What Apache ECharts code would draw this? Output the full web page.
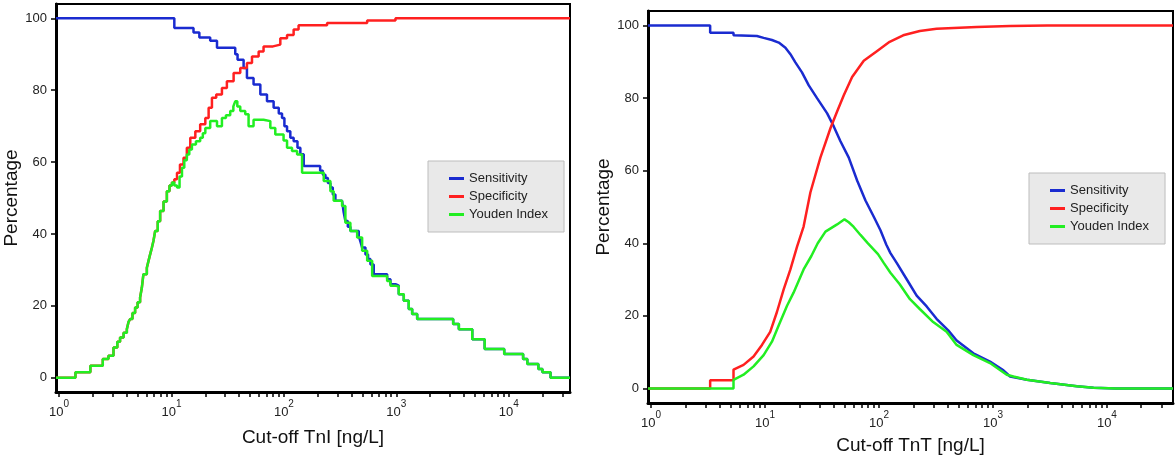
<!DOCTYPE html>
<html>
<head>
<meta charset="utf-8">
<script src="https://cdn.jsdelivr.net/npm/echarts@6/dist/echarts.min.js"></script>
<style>
  html, body { margin: 0; padding: 0; background: #fff; }
  #chart { width: 1176px; height: 460px; }
</style>
</head>
<body>
<div id="chart"></div>
<script>
// series names and axis ticks
const seriesNames = ['Sensitivity', 'Specificity', 'Youden Index'];
const seriesColors = ['#1a2bd0', '#ff2020', '#22ee22'];
const xTicks = [1, 2, 3, 4, 5, 6, 7, 8, 9,
  10, 20, 30, 40, 50, 60, 70, 80, 90,
  100, 200, 300, 400, 500, 600, 700, 800, 900,
  1000, 2000, 3000, 4000, 5000, 6000, 7000, 8000, 9000,
  10000, 20000, 30000];
const xLabels = [1, 10, 100, 1000, 10000];
const yTicks = [0, 20, 40, 60, 80, 100];

// TnI (left panel), step curves: [cut-off, %]
const tniSens = [[0.94, 100], [10.6, 97.3], [15.7, 96.1], [17.7, 94.7], [22.1, 93.8], [25.4, 91.8], [36.9, 90.0],
  [38.7, 88.5], [43.8, 86.2], [46.9, 83.4], [53.7, 81.6], [61.7, 78.8], [70.7, 76.9], [81, 75.1], [90, 73.5],
  [96.2, 72.3], [101, 70.0], [106.6, 68.6], [114, 66.8], [122, 65.8], [132, 64.0], [140, 62.2], [150, 58.9],
  [210, 57.6], [222, 56.5], [234, 55.6], [246, 54.2], [259, 52.9], [272, 51.0], [287, 49.2], [329, 48.7],
  [340, 46.0], [352, 43.6], [370, 42.0], [390, 40.8], [463, 39.4], [480, 37.8], [496, 36.2], [531, 34.3],
  [560, 33.0], [588, 31.5], [629, 28.8], [828, 27.4], [886, 26.0], [982, 25.6], [1050, 23.2], [1164, 21.4],
  [1289, 19.1], [1382, 17.7], [1531, 16.3], [3200, 14.9], [3594, 13.5], [4730, 10.7], [6100, 8.0], [9100, 6.6],
  [13400, 5.2], [14600, 3.8], [18300, 2.4], [19900, 1.5], [23500, 0], [35000, 0]];
const tniSpec = [[0.94, 0], [1.4, 1.5], [1.9, 3.3], [2.45, 5.2], [2.75, 6.1], [3.05, 8.4], [3.3, 10.0], [3.49, 11.2],
  [3.75, 12.5], [4.01, 13.5], [4.15, 15.5], [4.29, 16.3], [4.5, 18.0], [4.75, 19.5], [5.0, 21.0], [5.26, 22.3],
  [5.45, 25.0], [5.63, 28.8], [6.04, 30.6], [6.25, 32.5], [6.46, 34.3], [6.7, 36.2], [6.92, 38.1], [7.16, 40.8],
  [7.55, 43.5], [7.93, 46.4], [8.5, 49.0], [9.1, 51.9], [9.6, 53.5], [10.1, 54.3], [10.6, 55.2], [11.2, 57.0],
  [11.9, 59.3], [12.8, 61.2], [13.7, 64.0], [14.7, 66.8], [16.3, 68.6], [18.0, 70.5], [20.0, 72.3], [21.4, 75.1],
  [22.9, 77.9], [25.0, 78.8], [28.1, 80.6], [31.1, 82.5], [35.7, 84.8], [40.9, 86.2], [46.9, 87.6], [52, 89.4],
  [59.6, 90.8], [65.9, 92.2], [80, 92.7], [92.9, 94.5], [106.6, 95.4], [122, 96.9], [135, 98.1], [242, 98.7],
  [550, 99.4], [982, 100], [35000, 100]];
const tniYouden = [[0.94, 0], [1.4, 1.5], [1.9, 3.3], [2.45, 5.2], [2.75, 6.1], [3.05, 8.4], [3.3, 10.0], [3.49, 11.2],
  [3.75, 12.5], [4.01, 13.5], [4.15, 15.5], [4.29, 16.3], [4.5, 18.0], [4.75, 19.5], [5.0, 21.0], [5.26, 22.3],
  [5.45, 25.0], [5.63, 28.8], [6.04, 30.6], [6.25, 32.5], [6.46, 34.3], [6.7, 36.2], [6.92, 38.1], [7.16, 40.8],
  [7.55, 43.5], [7.93, 46.4], [8.5, 49.0], [9.1, 51.9], [9.6, 53.5], [10.1, 54.3], [10.6, 53.5], [11.2, 52.9],
  [11.8, 56.0], [12.4, 58.4], [13.0, 60.5], [13.7, 62.1], [14.4, 63.5], [15.2, 64.9], [16.5, 65.8], [18.0, 66.8],
  [19.0, 68.0], [20.0, 69.5], [22.1, 71.4], [25.4, 70.0], [28.1, 72.3], [30.5, 73.0], [33.3, 74.2], [35.5, 75.5],
  [36.9, 76.9], [38.5, 75.5], [40.9, 74.2], [45.3, 73.3], [48.5, 70.0], [53.7, 71.8], [65.9, 71.4], [75.7, 69.5],
  [83.8, 67.7], [99.3, 66.0], [106.6, 64.0], [118, 63.1], [131, 62.1], [145, 57.0], [226, 54.7], [259, 51.9],
  [277, 49.2], [329, 47.8], [352, 43.1], [390, 40.8], [448, 39.0], [496, 35.3], [550, 32.5], [609, 28.3],
  [828, 26.9], [886, 25.6], [982, 25.4], [1050, 23.2], [1164, 21.4], [1289, 19.1], [1382, 17.7], [1531, 16.3],
  [3200, 14.9], [3594, 13.5], [4730, 10.7], [6100, 8.0], [9100, 6.6], [13400, 5.2], [14600, 3.8], [18300, 2.4],
  [19900, 1.5], [23500, 0], [35000, 0]];

// TnT (right panel), dense curves: [cut-off, %]
const tntSens = [[0.94, 100], [3.3, 100], [3.3, 98.0], [5.29, 98.0], [5.29, 97.3], [8.49, 97.1], [9.72, 96.6],
  [11.5, 96.0], [13.2, 95.3], [15.1, 93.9], [16.7, 92.1], [18.4, 89.9], [21.1, 87.1], [24.2, 83.5], [28.6, 80.0],
  [35.1, 75.8], [40.1, 72.2], [45.9, 68.1], [54.3, 63.6], [64.3, 57.3], [76.1, 51.8], [90, 47.3], [103, 43.6],
  [116, 39.6], [126, 37.3], [143, 34.6], [175, 30.1], [214, 25.6], [262, 22.6], [320, 19.2], [405, 16.0],
  [480, 13.2], [673, 9.7], [942, 7.4], [1236, 5.0], [1413, 3.3], [1983, 2.4], [3178, 1.5], [5450, 0.6],
  [7640, 0.2], [12000, 0], [38000, 0]];
const tntSpec = [[0.94, 0], [3.3, 0], [3.3, 2.3], [5.29, 2.3], [5.29, 5.2], [6.48, 6.5], [7.93, 8.8], [9.4, 12.0],
  [11.1, 15.6], [12.7, 21.0], [14.6, 27.4], [16.7, 32.8], [19.1, 39.1], [21.8, 44.6], [25.0, 54.0], [30.6, 63.6],
  [37.5, 71.7], [42.9, 76.3], [49.1, 80.8], [58.1, 85.8], [73.5, 90.3], [96.4, 93.0], [124, 95.5], [163, 97.3],
  [228, 98.5], [320, 99.1], [720, 99.6], [1413, 99.9], [3000, 100], [38000, 100]];
const tntYouden = [[0.94, 0], [5.29, 0], [5.29, 2.4], [6.48, 3.8], [7.93, 6.1], [9.72, 9.2], [11.5, 12.9],
  [13.2, 17.4], [15.6, 22.8], [17.8, 26.4], [21.8, 32.8], [25.5, 36.5], [29, 40.0], [33.9, 43.2], [42.9, 45.2],
  [49.8, 46.6], [54.3, 45.8], [60, 44.5], [68.8, 42.3], [80, 40.0], [98, 37.0], [110, 34.6], [126, 31.9],
  [152, 28.7], [187, 24.6], [228, 21.9], [299, 18.3], [392, 15.6], [480, 12.0], [673, 9.2], [942, 7.0],
  [1321, 3.8], [1514, 3.3], [1983, 2.4], [3178, 1.5], [5450, 0.6], [7640, 0.2], [12000, 0], [38000, 0]];

const chart = echarts.init(document.getElementById('chart'));
const textColor = '#222';
const fontFamily = 'Liberation Sans, Arial, sans-serif';

function makeX(idx, max, name, gap) {
  return {
    type: 'log', logBase: 10, gridIndex: idx, min: 0.94, max: max,
    name: name, nameLocation: 'middle', nameGap: gap,
    nameTextStyle: { fontSize: 19, color: '#111', fontFamily: fontFamily },
    axisLine: { onZero: false, lineStyle: { color: '#000', width: 3 } },
    axisTick: { customValues: xTicks, length: 5, lineStyle: { color: '#000', width: 1.5 } },
    minorTick: { show: false },
    splitLine: { show: false },
    axisLabel: {
      customValues: xLabels, margin: 7,
      formatter: function (v) { return '{b|10}{s|' + Math.round(Math.log10(v)) + '}'; },
      rich: {
        b: { fontSize: 13, color: textColor, fontFamily: fontFamily, lineHeight: 20, verticalAlign: 'bottom' },
        s: { fontSize: 10, color: textColor, fontFamily: fontFamily, lineHeight: 12, verticalAlign: 'top' }
      }
    }
  };
}

function makeY(idx, gap) {
  return {
    type: 'value', gridIndex: idx, min: -4, max: 104,
    name: 'Percentage', nameLocation: 'middle', nameGap: gap,
    nameTextStyle: { fontSize: 19, color: '#111', fontFamily: fontFamily },
    axisLine: { onZero: false, lineStyle: { color: '#000', width: 3 } },
    axisTick: { customValues: yTicks, length: 5, lineStyle: { color: '#000', width: 1.5 } },
    splitLine: { show: false },
    axisLabel: { customValues: yTicks, margin: 9, fontSize: 13, color: textColor, fontFamily: fontFamily }
  };
}

function makeSeries(idx, data, colorIdx, step) {
  return {
    name: seriesNames[colorIdx], type: 'line', xAxisIndex: idx, yAxisIndex: idx,
    data: data, step: step, symbol: 'none', clip: true,
    lineStyle: { color: seriesColors[colorIdx], width: 2.5 },
    itemStyle: { color: seriesColors[colorIdx] }
  };
}

function makeLegend(left, top) {
  return {
    data: seriesNames, orient: 'vertical', left: left, top: top,
    backgroundColor: '#e9e9e9', borderColor: '#bdbdbd', borderWidth: 1,
    padding: [11, 16, 11, 21], itemGap: 5, itemWidth: 15, itemHeight: 3, icon: 'rect',
    textStyle: { fontSize: 13, color: textColor, fontFamily: fontFamily }
  };
}

chart.setOption({
  animation: false,
  backgroundColor: '#fff',
  grid: [
    { left: 56, top: 4, width: 514, height: 388, show: true, borderColor: '#000', borderWidth: 2 },
    { left: 648, top: 11, width: 525, height: 397, show: true, borderColor: '#000', borderWidth: 2 }
  ],
  xAxis: [
    makeX(0, 35000, 'Cut-off TnI [ng/L]', 36),
    makeX(1, 38000, 'Cut-off TnT [ng/L]', 33)
  ],
  yAxis: [makeY(0, 33), makeY(1, 35)],
  legend: [makeLegend(428, 161), makeLegend(1029, 173)],
  series: [
    makeSeries(0, tniSens, 0, 'end'),
    makeSeries(0, tniSpec, 1, 'end'),
    makeSeries(0, tniYouden, 2, 'end'),
    makeSeries(1, tntSens, 0, false),
    makeSeries(1, tntSpec, 1, false),
    makeSeries(1, tntYouden, 2, false)
  ]
});
</script>
</body>
</html>
